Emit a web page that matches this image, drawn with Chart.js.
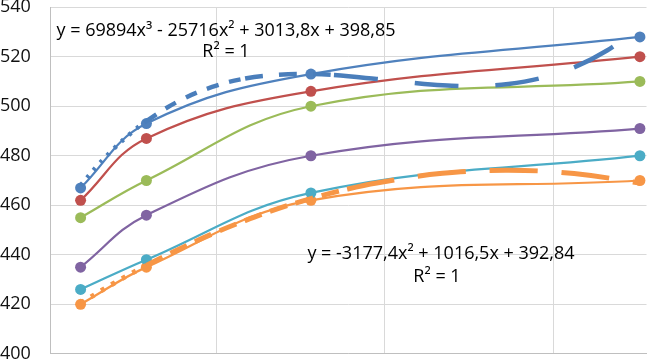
<!DOCTYPE html>
<html>
<head>
<meta charset="utf-8">
<script src="https://cdn.jsdelivr.net/npm/chart.js@4/dist/chart.umd.min.js"></script>
<style>
  html, body { margin: 0; padding: 0; background: #fff; }
  #wrap { width: 652px; height: 361px; position: relative; }
</style>
</head>
<body>
<div id="wrap"><canvas id="curveChart"></canvas></div>
<script>
// measured x positions of the four points
const xValues = [0.03, 0.05, 0.1, 0.2];

const blueValues   = [467, 493, 513, 528];
const redValues    = [462, 487, 506, 520];
const greenValues  = [455, 470, 500, 510];
const purpleValues = [435, 456, 480, 491];
const cyanValues   = [426, 438, 465, 480];
const orangeValues = [420, 435, 462, 470];

// trend curves
const blueTrendX = [0.03, 0.035, 0.04, 0.045, 0.05, 0.06, 0.07, 0.08, 0.09, 0.1, 0.107, 0.12, 0.13, 0.14, 0.15, 0.16, 0.17, 0.18, 0.19, 0.2];
const blueTrendY = [468.0, 475.8, 482.7, 488.8, 494.0, 502.2, 507.8, 511.2, 512.7, 513.0, 512.6, 511.0, 509.6, 508.5, 508.2, 509.0, 511.4, 515.7, 522.5, 532.1];
const orangeTrendX = [0.03, 0.04, 0.05, 0.06, 0.07, 0.08, 0.09, 0.1, 0.111, 0.12, 0.14, 0.16, 0.18, 0.2];
const orangeTrendY = [420.5, 428.4, 435.7, 442.3, 448.4, 453.8, 458.6, 462.7, 466.5, 469.0, 472.9, 474.1, 472.8, 469.0];

const yTicks = [400, 420, 440, 460, 480, 500, 520, 540];
const xGrid = [0.0713, 0.1225, 0.1737];

const blueEquation = "y = 69894x³ - 25716x² + 3013,8x + 398,85";
const orangeEquation = "y = -3177,4x² + 1016,5x + 392,84";
const rSquared = "R² = 1";

function toPoints(xs, ys) {
    return xs.map((x, i) => ({ x: x, y: ys[i] }));
}

function seriesSet(label, values, color) {
    return {
        label: label,
        data: toPoints(xValues, values),
        borderColor: color,
        backgroundColor: color,
        borderWidth: 2.25,
        pointRadius: 5.5,
        pointBorderWidth: 0,
        tension: 0.4,
        showLine: true,
        order: 1
    };
}

// dash pattern per stretch of the trend curve: [from x, pattern]
const blueDashes = [[0, [3, 7]], [0.05, [12, 11]], [0.08, [18, 16]], [0.107, [44, 37]]];
const orangeDashes = [[0, [4, 8]], [0.05, [18, 9]], [0.111, [48, 24]]];

function dashFor(x, table) {
    let dash = table[0][1];
    table.forEach(row => { if (x >= row[0] - 1e-6) dash = row[1]; });
    return dash;
}

const equationLabels = {
    id: "equationLabels",
    afterDatasetsDraw(chart) {
        const c = chart.ctx;
        c.save();
        c.fillStyle = "#000";
        c.textAlign = "center";
        c.textBaseline = "alphabetic";
        c.font = "18px 'Open Sans'";
        c.fillText(blueEquation, 226, 36);
        c.fillText(rSquared, 226, 57);
        c.fillText(orangeEquation, 441, 259);
        c.fillText(rSquared, 437, 282);
        c.restore();
    }
};

const ctx = document.getElementById("curveChart").getContext("2d");

const curveChart = new Chart(ctx, {
    type: "scatter",
    data: {
        datasets: [
            {
                label: "trend blue",
                data: toPoints(blueTrendX, blueTrendY),
                borderColor: "#4a7ebb",
                borderWidth: 4.5,
                pointRadius: 0,
                showLine: true,
                tension: 0.4,
                order: 0,
                segment: {
                    borderDash: s => dashFor(s.p0.parsed.x, blueDashes)
                }
            },
            {
                label: "trend orange",
                data: toPoints(orangeTrendX, orangeTrendY),
                borderColor: "#f79646",
                borderWidth: 5,
                pointRadius: 0,
                showLine: true,
                tension: 0.4,
                order: 0,
                segment: {
                    borderDash: s => dashFor(s.p0.parsed.x, orangeDashes)
                }
            },
            seriesSet("s1", blueValues, "#4f81bd"),
            seriesSet("s2", redValues, "#c0504d"),
            seriesSet("s3", greenValues, "#9bbb59"),
            seriesSet("s4", purpleValues, "#8064a2"),
            seriesSet("s5", cyanValues, "#4bacc6"),
            seriesSet("s6", orangeValues, "#f79646")
        ]
    },
    options: {
        responsive: true,
        maintainAspectRatio: false,
        animation: false,
        layout: { padding: 0 },
        plugins: {
            legend: { display: false },
            tooltip: { enabled: false }
        },
        scales: {
            x: {
                type: "linear",
                min: 0.0207,
                max: 0.202,
                afterBuildTicks: scale => { scale.ticks = xGrid.map(v => ({ value: v })); },
                ticks: { display: false },
                grid: { color: "#d9d9d9", lineWidth: 1, drawTicks: false },
                border: { display: true, color: "#bfbfbf", width: 1 }
            },
            y: {
                min: 400,
                max: 540,
                afterBuildTicks: scale => { scale.ticks = yTicks.map(v => ({ value: v })); },
                afterFit: scale => { scale.width = 50; },
                ticks: {
                    color: "#111",
                    padding: 0,
                    crossAlign: "far",
                    font: { family: "'Open Sans'", size: 18, lineHeight: 0.8 }
                },
                grid: { color: "#d9d9d9", lineWidth: 1, drawTicks: false },
                border: { display: true, color: "#bfbfbf", width: 1 }
            }
        }
    },
    plugins: [equationLabels]
});
</script>
</body>
</html>
